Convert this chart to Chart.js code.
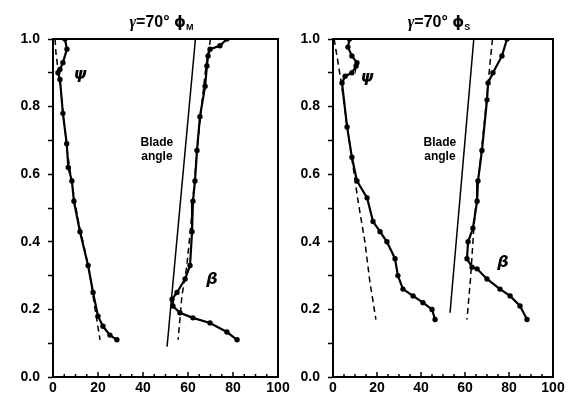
<!DOCTYPE html>
<html>
<head>
<meta charset="utf-8">
<script src="https://cdn.jsdelivr.net/npm/chart.js@4.4.0/dist/chart.umd.min.js"></script>
<style>
  html, body { margin: 0; padding: 0; background: #fff; }
  #wrap { position: relative; width: 568px; height: 401px; overflow: hidden; }
  #wrap canvas { position: absolute; top: 0; }
</style>
</head>
<body>
<div id="wrap">
  <canvas id="chart-m" width="300" height="401" style="left:0;width:300px;height:401px"></canvas>
  <canvas id="chart-s" width="283" height="401" style="left:285px;width:283px;height:401px"></canvas>
</div>
<script>
// tick labels
const X_LABELS = [0, 20, 40, 60, 80, 100];
const Y_LABELS = [0, 0.2, 0.4, 0.6, 0.8, 1.0];

// left panel (phi_M): [angle, radius]
const psiM = [[5.3,1.0],[6.2,0.97],[4.4,0.93],[3.1,0.91],[2.2,0.9],[3.1,0.88],[4.4,0.78],[6.1,0.69],[6.8,0.62],[8.4,0.58],[9.3,0.52],[12,0.43],[15.6,0.33],[17.8,0.25],[20,0.18],[22.2,0.15],[25.3,0.124],[28.4,0.11]];
const psiMTheory = [[0.9,1.0],[1.3,0.96],[2.2,0.91],[3.5,0.85],[5,0.75],[6.5,0.66],[8.5,0.57],[11,0.47],[14,0.38],[16.5,0.3],[18,0.23],[20.9,0.11]];
const betaM = [[77.3,1.0],[74.2,0.98],[69.8,0.97],[68.9,0.95],[68.4,0.92],[67.6,0.86],[65.3,0.77],[64,0.67],[63.1,0.58],[62.2,0.52],[61.8,0.43],[60.9,0.33],[58.7,0.29],[55.1,0.25],[52.9,0.23],[53.3,0.21],[56.4,0.19],[62.2,0.175],[69.8,0.16],[77.3,0.133],[81.8,0.11]];
const betaMTheory = [[70,1.0],[68,0.92],[66,0.8],[64,0.67],[62.5,0.55],[61,0.43],[59.5,0.33],[57.3,0.24],[55.6,0.11]];
const bladeM = [[63.3,1.0],[50.7,0.09]];

// right panel (phi_S)
const psiS = [[7.5,1.0],[6.8,0.976],[8.6,0.95],[10.9,0.93],[10.5,0.92],[8.6,0.9],[5.5,0.89],[4.1,0.87],[6.4,0.74],[8.6,0.65],[10.9,0.58],[15.5,0.53],[18.2,0.46],[21.4,0.43],[24.5,0.4],[28.2,0.35],[29.5,0.3],[31.8,0.26],[36.4,0.24],[40.9,0.22],[45,0.2],[46.4,0.17]];
const psiSTheory = [[0.5,1.0],[2.3,0.93],[4,0.86],[6,0.76],[8.5,0.65],[11.4,0.52],[14.5,0.4],[16.8,0.28],[19.5,0.17]];
const betaS = [[79.1,1.0],[76.8,0.95],[72.7,0.9],[70.5,0.87],[70,0.82],[67.7,0.67],[65.9,0.58],[65.5,0.52],[63.6,0.44],[61.4,0.4],[60.9,0.35],[63.2,0.325],[65.5,0.32],[70,0.29],[75.9,0.26],[80.5,0.24],[85,0.21],[88.2,0.17]];
const betaSTheory = [[72.5,1.0],[71.4,0.93],[69.5,0.8],[67.5,0.67],[65.5,0.55],[64,0.44],[63,0.34],[62.5,0.29],[60.9,0.17]];
const bladeS = [[64,1.0],[53.2,0.19]];

const toXY = arr => arr.map(([x, y]) => ({ x, y }));

function solid(d) {
	return { data: toXY(d), showLine: true, borderColor: '#000', backgroundColor: '#000', borderWidth: 2.2, pointRadius: 1.6, pointHoverRadius: 1.6 };
}
function dashed(d) {
	return { data: toXY(d), showLine: true, borderColor: '#000', borderWidth: 1.5, borderDash: [6, 4], pointRadius: 0, pointHoverRadius: 0 };
}
function thin(d) {
	return { data: toXY(d), showLine: true, borderColor: '#000', borderWidth: 1.5, pointRadius: 0, pointHoverRadius: 0 };
}

const isLabel = (list, v) => list.some(t => Math.abs(t - v) < 1e-6);

// frame, inward x ticks, title and in-plot notes
const panelText = {
	id: 'panelText',
	afterDraw(chart, args, opts) {
		const { ctx, chartArea: a, scales: { x, y } } = chart;
		ctx.save();
		ctx.strokeStyle = '#000';
		ctx.lineWidth = 2;
		ctx.strokeRect(a.left, a.top, a.right - a.left, a.bottom - a.top);

		ctx.lineWidth = 1.5;
		x.ticks.forEach(t => {
			const px = x.getPixelForValue(t.value);
			const len = isLabel(X_LABELS, t.value) ? 5 : 3;
			ctx.beginPath();
			ctx.moveTo(px, a.bottom);
			ctx.lineTo(px, a.bottom - len);
			ctx.stroke();
		});

		// title: gamma=70° phi_sub
		ctx.fillStyle = '#000';
		ctx.textBaseline = 'alphabetic';
		const parts = [
			{ t: 'γ', f: 'italic bold 16px "Liberation Serif"', dy: 0 },
			{ t: '=70° ', f: 'bold 16px "Liberation Sans"', dy: 0 },
			{ t: 'ϕ', f: 'bold 15px "DejaVu Sans"', dy: 0 },
			{ t: opts.sub, f: 'bold 9px "Liberation Sans"', dy: 3 }
		];
		let w = 0;
		parts.forEach(p => { ctx.font = p.f; p.w = ctx.measureText(p.t).width; w += p.w; });
		let cx = (a.left + a.right) / 2 - w / 2 - 4;
		const base = a.top - 12;
		parts.forEach(p => { ctx.font = p.f; ctx.textAlign = 'left'; ctx.fillText(p.t, cx, base + p.dy); cx += p.w; });

		ctx.textAlign = 'center';
		ctx.textBaseline = 'middle';
		opts.notes.forEach(n => {
			ctx.font = n.font;
			ctx.fillText(n.text, x.getPixelForValue(n.x), y.getPixelForValue(n.y));
		});
		ctx.restore();
	}
};

const NOTE_FONT = 'bold 12px "Liberation Sans"';
const GREEK_FONT = 'italic bold 16px "DejaVu Sans"';

function makeChart(id, series, axisWidth, padRight, sub, notes) {
	return new Chart(document.getElementById(id), {
		type: 'scatter',
		data: { datasets: series },
		options: {
			responsive: false,
			animation: false,
			events: [],
			layout: { padding: { top: 39, right: padRight, left: 0, bottom: 0 } },
			plugins: { legend: { display: false }, tooltip: { enabled: false }, panelText: { sub, notes } },
			scales: {
				x: {
					type: 'linear', min: 0, max: 100,
					afterFit: s => { s.height = 24; },
					border: { color: '#000', width: 2 },
					grid: { drawOnChartArea: false, drawTicks: false },
					ticks: {
						stepSize: 5, autoSkip: false, maxRotation: 0, padding: 3, color: '#000',
						font: { family: 'Liberation Sans', size: 14, weight: 'bold' },
						callback: v => isLabel(X_LABELS, v) ? String(Math.round(v)) : ''
					}
				},
				y: {
					type: 'linear', min: 0, max: 1,
					afterFit: s => { s.width = axisWidth; },
					border: { color: '#000', width: 2 },
					grid: { drawOnChartArea: false, tickLength: 5, tickColor: '#000', tickWidth: 1.5 },
					ticks: {
						stepSize: 0.1, autoSkip: false, padding: 8, color: '#000',
						font: { family: 'Liberation Sans', size: 14, weight: 'bold' },
						callback: v => isLabel(Y_LABELS, v) ? v.toFixed(1) : ''
					}
				}
			}
		},
		plugins: [panelText]
	});
}

makeChart('chart-m',
	[solid(psiM), dashed(psiMTheory), solid(betaM), dashed(betaMTheory), thin(bladeM)],
	53, 22, 'M',
	[
		{ text: 'ψ', x: 12, y: 0.893, font: GREEK_FONT },
		{ text: 'β', x: 70.7, y: 0.287, font: GREEK_FONT },
		{ text: 'Blade', x: 46.2, y: 0.692, font: NOTE_FONT },
		{ text: 'angle', x: 46.2, y: 0.651, font: NOTE_FONT }
	]);

makeChart('chart-s',
	[solid(psiS), dashed(psiSTheory), solid(betaS), dashed(betaSTheory), thin(bladeS)],
	48, 15, 'S',
	[
		{ text: 'ψ', x: 15.5, y: 0.885, font: GREEK_FONT },
		{ text: 'β', x: 77.3, y: 0.337, font: GREEK_FONT },
		{ text: 'Blade', x: 48.6, y: 0.692, font: NOTE_FONT },
		{ text: 'angle', x: 48.6, y: 0.651, font: NOTE_FONT }
	]);
</script>
</body>
</html>
